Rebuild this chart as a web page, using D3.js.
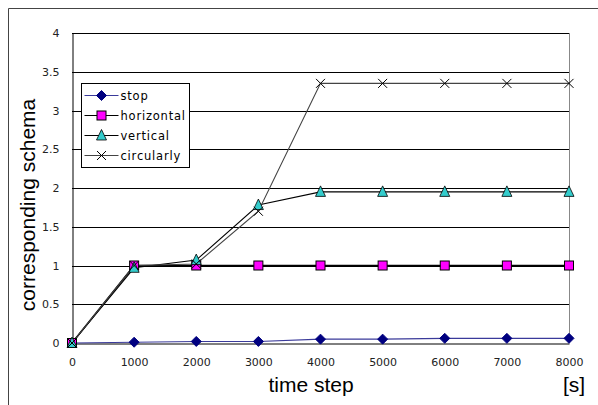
<!DOCTYPE html>
<html>
<head>
<meta charset="utf-8">
<script src="https://cdn.jsdelivr.net/npm/d3@7"></script>
<style>
  body { margin: 0; background: #fff; }
  svg { display: block; }
</style>
</head>
<body>
<div id="app"></div>
<script>
const steps = [0, 1000, 2000, 3000, 4000, 5000, 6000, 7000, 8000]
const stop = [0, 0.01, 0.02, 0.02, 0.05, 0.05, 0.06, 0.06, 0.06]
const horizontal = [0, 1, 1, 1, 1, 1, 1, 1, 1]
const vertical = [0, 0.97, 1.07, 1.78, 1.95, 1.95, 1.95, 1.95, 1.95]
const circularly = [0, 1, 1.02, 1.7, 3.35, 3.35, 3.35, 3.35, 3.35]
const yTicks = [0, 0.5, 1, 1.5, 2, 2.5, 3, 3.5, 4]

const series = [
    {name: 'stop', values: stop, line: '#3a3a9a', marker: 'diamond', fill: '#000080', stroke: '#000080'},
    {name: 'horizontal', values: horizontal, line: '#000', marker: 'square', fill: '#ff00ff', stroke: '#000'},
    {name: 'vertical', values: vertical, line: '#000', marker: 'triangle', fill: '#33cccc', stroke: '#000'},
    {name: 'circularly', values: circularly, line: '#444', marker: 'cross', fill: 'none', stroke: '#000'},
]

const width = 598, height = 405
const plotLeft = 72, plotRight = 569, plotTop = 33, plotBottom = 343

const svg = d3.select('#app').append('svg')
    .attr('width', width)
    .attr('height', height)

// chart area border (only top/left fit in the window)
svg.append('path')
    .attr('d', `M8.5,${height + 5}V8.5H${width + 5}`)
    .attr('fill', 'none')
    .attr('stroke', '#444')
    .attr('stroke-width', 1)

const x = d3.scaleLinear().domain([0, 8000]).range([plotLeft, plotRight])
const y = d3.scaleLinear().domain([0, 4]).range([plotBottom, plotTop])

// gridlines
svg.append('g')
    .selectAll('line')
    .data(yTicks.slice(1))
    .join('line')
    .attr('x1', plotLeft).attr('x2', plotRight)
    .attr('y1', d => Math.round(y(d)) + 0.5).attr('y2', d => Math.round(y(d)) + 0.5)
    .attr('stroke', '#000')

// plot area frame
svg.append('line')
    .attr('x1', plotRight + 0.5).attr('x2', plotRight + 0.5)
    .attr('y1', plotTop).attr('y2', plotBottom)
    .attr('stroke', '#888')

// axes
const yAxis = svg.append('g')
    .attr('transform', `translate(${plotLeft + 0.5},0)`)
    .call(d3.axisLeft(y).tickValues(yTicks).tickSize(0).tickPadding(13).tickFormat(d3.format('')))
yAxis.select('.domain').attr('stroke', '#000')

const xAxis = svg.append('g')
    .attr('transform', `translate(0,${Math.round(plotBottom) + 0.5})`)
    .call(d3.axisBottom(x).tickValues(steps).tickSize(0).tickPadding(15).tickFormat(d3.format('d')))
xAxis.select('.domain').attr('stroke', '#000')

svg.selectAll('.tick text')
    .attr('font-family', 'DejaVu Sans, sans-serif')
    .attr('font-size', 11)
    .attr('fill', '#222')

// axis titles
svg.append('text')
    .attr('transform', `translate(35,${(plotTop + plotBottom) / 2 + 17}) rotate(-90)`)
    .attr('text-anchor', 'middle')
    .attr('font-family', 'Liberation Sans, Arial, sans-serif')
    .attr('font-size', 21)
    .text('corresponding schema')

svg.append('text')
    .attr('x', 311).attr('y', 392)
    .attr('text-anchor', 'middle')
    .attr('font-family', 'Liberation Sans, Arial, sans-serif')
    .attr('font-size', 21)
    .text('time step')

svg.append('text')
    .attr('x', 574).attr('y', 392)
    .attr('text-anchor', 'middle')
    .attr('font-family', 'Liberation Sans, Arial, sans-serif')
    .attr('font-size', 21)
    .text('[s]')

// markers
function drawMarker(g, s) {
    if (s.marker === 'diamond') {
        g.append('path').attr('d', 'M0,-5L5,0L0,5L-5,0Z')
            .attr('fill', s.fill).attr('stroke', s.stroke)
    } else if (s.marker === 'square') {
        g.append('rect').attr('x', -4.5).attr('y', -4.5).attr('width', 9).attr('height', 9)
            .attr('fill', s.fill).attr('stroke', s.stroke)
    } else if (s.marker === 'triangle') {
        g.append('path').attr('d', 'M0,-6L5,4.5L-5,4.5Z')
            .attr('fill', s.fill).attr('stroke', s.stroke).attr('stroke-width', 0.8)
    } else {
        g.append('path').attr('d', 'M-4.5,-4.5L4.5,4.5M-4.5,4.5L4.5,-4.5')
            .attr('fill', 'none').attr('stroke', s.stroke)
    }
}

const line = d3.line().x((d, i) => x(steps[i])).y(d => y(d))

series.forEach(s => {
    svg.append('path')
        .datum(s.values)
        .attr('d', line)
        .attr('fill', 'none')
        .attr('stroke', s.line)
        .attr('stroke-width', s.name === 'horizontal' ? 1.6 : 1.1)
})

series.forEach(s => {
    s.values.forEach((v, i) => {
        const g = svg.append('g').attr('transform', `translate(${x(steps[i])},${y(v)})`)
        drawMarker(g, s)
    })
})

// legend
const legend = svg.append('g').attr('transform', 'translate(81.5,83.5)')
legend.append('rect')
    .attr('width', 108).attr('height', 84)
    .attr('fill', '#fff').attr('stroke', '#000')

series.forEach((s, i) => {
    const row = legend.append('g').attr('transform', `translate(0,${12 + i * 20})`)
    row.append('line').attr('x1', 3).attr('x2', 37).attr('stroke', s.line)
    drawMarker(row.append('g').attr('transform', 'translate(20,0)'), s)
    row.append('text')
        .attr('x', 39).attr('y', 4)
        .attr('font-family', 'DejaVu Sans, sans-serif')
        .attr('font-size', 11.5)
        .attr('letter-spacing', 0.8)
        .text(s.name)
})
</script>
</body>
</html>
